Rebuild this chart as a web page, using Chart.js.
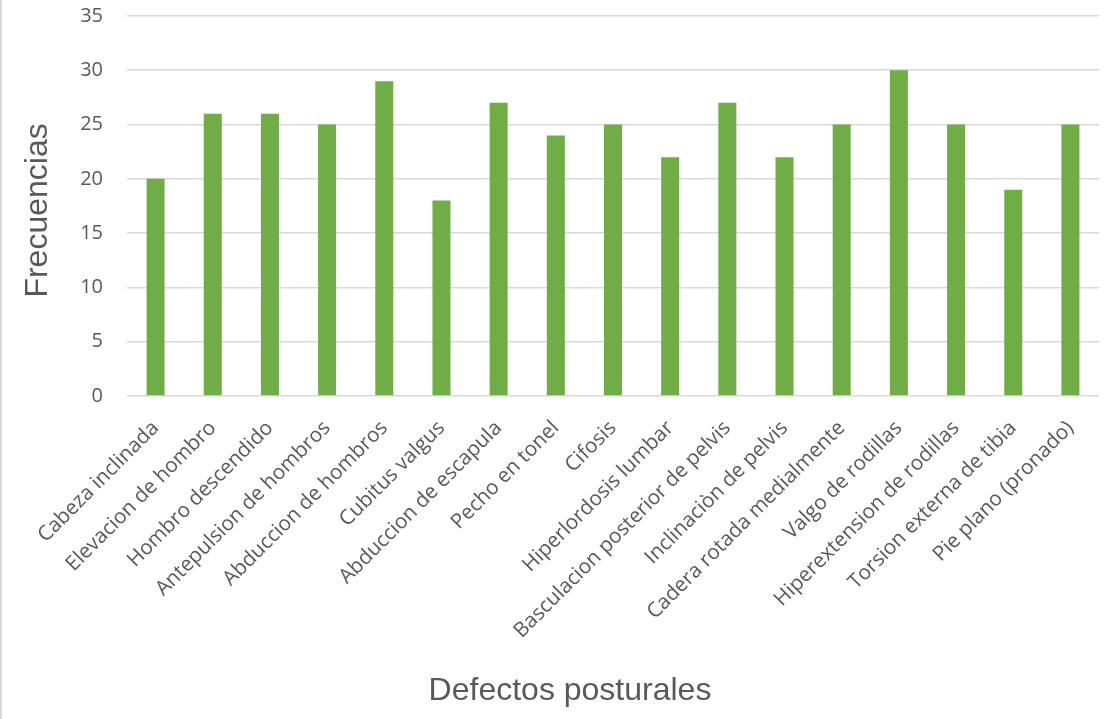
<!DOCTYPE html>
<html>
<head>
<meta charset="utf-8">
<script src="https://cdn.jsdelivr.net/npm/chart.js@4.4.1/dist/chart.umd.min.js"></script>
<style>
    html, body { margin: 0; padding: 0; background: #ffffff; }
    #wrap { width: 1118px; height: 719px; position: relative; }
</style>
</head>
<body>
<div id="wrap"><canvas id="defectsChart"></canvas></div>
<script>
// Data
const categories = [
    'Cabeza inclinada',
    'Elevacion de hombro',
    'Hombro descendido',
    'Antepulsion de hombros',
    'Abduccion de hombros',
    'Cubitus valgus',
    'Abduccion de escapula',
    'Pecho en tonel',
    'Cifosis',
    'Hiperlordosis lumbar',
    'Basculacion posterior de pelvis',
    'Inclinaciòn de pelvis',
    'Cadera rotada medialmente',
    'Valgo de rodillas',
    'Hiperextension de rodillas',
    'Torsion externa de tibia',
    'Pie plano (pronado)'
];
const frequencies = [20, 26, 26, 25, 29, 18, 27, 24, 25, 22, 27, 22, 25, 30, 25, 19, 25];
const yTicks = [0, 5, 10, 15, 20, 25, 30, 35];

const textColor = '#595959';
const gridColor = '#d9d9d9';

// thin frame line on the left edge, like the original chart box
const frameLine = {
    id: 'frameLine',
    beforeDraw(chart) {
        const ctx = chart.ctx;
        ctx.save();
        ctx.fillStyle = gridColor;
        ctx.fillRect(0, 0, 2, chart.height);
        ctx.restore();
    }
};

document.addEventListener('DOMContentLoaded', function() {
    const ctx = document.getElementById('defectsChart').getContext('2d');
    new Chart(ctx, {
        type: 'bar',
        data: {
            labels: categories,
            datasets: [{
                label: 'Frecuencias',
                data: frequencies,
                backgroundColor: '#70AD47',
                borderWidth: 0,
                categoryPercentage: 1,
                barPercentage: 0.315
            }]
        },
        options: {
            responsive: true,
            maintainAspectRatio: false,
            animation: false,
            layout: {
                padding: { left: 41, right: 19, top: 16, bottom: 0 }
            },
            plugins: {
                legend: { display: false },
                tooltip: { enabled: false },
                title: {
                    display: true,
                    position: 'bottom',
                    text: 'Defectos posturales',
                    color: textColor,
                    font: { family: '"Liberation Sans", Arial, sans-serif', size: 32, weight: 'normal' },
                    padding: { top: 0, bottom: 9 }
                }
            },
            scales: {
                x: {
                    grid: { display: false },
                    border: { display: false },
                    ticks: {
                        color: textColor,
                        font: { family: '"Open Sans", sans-serif', size: 20.6 },
                        minRotation: 45,
                        maxRotation: 45,
                        autoSkip: false,
                        padding: 12
                    },
                    afterFit(scale) {
                        scale.height = 275.6;
                    }
                },
                y: {
                    min: 0,
                    max: 35,
                    afterBuildTicks(scale) {
                        scale.ticks = yTicks.map(v => ({ value: v }));
                    },
                    grid: {
                        color: gridColor,
                        lineWidth: 1.6,
                        drawTicks: true,
                        tickLength: 20,
                        tickColor: 'rgba(0,0,0,0)'
                    },
                    border: { display: false },
                    ticks: {
                        color: textColor,
                        font: { family: '"Open Sans", sans-serif', size: 20 },
                        padding: 4
                    },
                    title: {
                        display: true,
                        text: 'Frecuencias ',
                        color: textColor,
                        font: { family: '"Liberation Sans", Arial, sans-serif', size: 32, weight: 'normal' },
                        padding: { top: -22, bottom: 0 }
                    },
                    afterFit(scale) {
                        scale.width = 86;
                    }
                }
            }
        },
        plugins: [frameLine]
    });
});
</script>
</body>
</html>
